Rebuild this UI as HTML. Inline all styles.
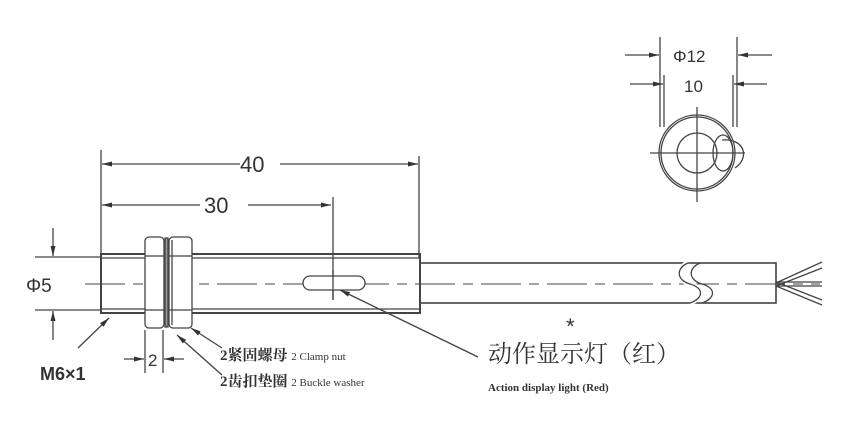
<!DOCTYPE html>
<html><head><meta charset="utf-8"><style>
html,body{margin:0;padding:0;background:#fff;}
svg{display:block;}
text{font-family:"Liberation Sans",sans-serif;fill:#333;}
.s{font-family:"Liberation Serif","Noto Serif CJK SC",serif;}
</style></head><body>
<svg width="860" height="434" viewBox="0 0 860 434" xmlns="http://www.w3.org/2000/svg">
<defs><marker id="a" markerWidth="10" markerHeight="6" refX="10" refY="3" orient="auto" markerUnits="userSpaceOnUse"><path d="M0,0.5 L10,3 L0,5.5z" fill="#333"/></marker></defs>
<g stroke="#444" fill="none" stroke-width="1.3">
<line x1="101" y1="150" x2="101" y2="312"/>
<line x1="419" y1="156" x2="419" y2="258"/>
<line x1="333" y1="197" x2="333" y2="300"/>
<line x1="240" y1="164" x2="102" y2="164" marker-end="url(#a)"/>
<line x1="280" y1="164" x2="418" y2="164" marker-end="url(#a)"/>
<line x1="200" y1="205" x2="102" y2="205" marker-end="url(#a)"/>
<line x1="248" y1="205" x2="331" y2="205" marker-end="url(#a)"/>
<rect x="101" y="254" width="319" height="59" stroke-width="2"/>
<line x1="101" y1="258" x2="420" y2="258"/>
<line x1="101" y1="309" x2="420" y2="309"/>
<line x1="35" y1="257" x2="101" y2="257"/>
<line x1="35" y1="310" x2="101" y2="310"/>
<line x1="53" y1="228" x2="53" y2="256" marker-end="url(#a)"/>
<line x1="53" y1="340" x2="53" y2="311" marker-end="url(#a)"/>
<line x1="85" y1="284" x2="820" y2="284" stroke-dasharray="40,8,10,8" stroke-width="1"/>
<rect x="145" y="237" width="19" height="91" rx="4" fill="#fff"/>
<line x1="145" y1="256" x2="164" y2="256"/><line x1="145" y1="310" x2="164" y2="310"/>
<rect x="165" y="238" width="3" height="89" fill="#999"/>
<rect x="169" y="237" width="23" height="91" rx="4" fill="#fff"/>
<line x1="169" y1="256" x2="192" y2="256"/><line x1="169" y1="310" x2="192" y2="310"/>
<line x1="172" y1="240" x2="172" y2="325"/>
<rect x="303" y="276" width="62" height="14" rx="7" fill="#fff"/>
<line x1="333" y1="270" x2="333" y2="300"/>
<rect x="420" y="263" width="356" height="40" stroke-width="1.6"/>
<path d="M688,263 C676,268 676,280 690,284 C704,288 704,298 690,303" fill="#fff" stroke="#fff" stroke-width="5"/>
<path d="M688,263 C676,268 676,280 690,284 M690,284 C704,288 704,298 690,303"/>
<path d="M700,263 C688,268 688,280 702,284 M702,284 C716,288 716,298 702,303"/>
<line x1="776" y1="283" x2="822" y2="262"/><line x1="776" y1="286" x2="822" y2="268"/>
<line x1="776" y1="282" x2="822" y2="282"/><line x1="776" y1="286" x2="822" y2="286"/>
<line x1="776" y1="282" x2="822" y2="300"/><line x1="776" y1="286" x2="822" y2="305"/>
<line x1="78" y1="348" x2="109" y2="318" marker-end="url(#a)"/>
<line x1="222" y1="348" x2="191" y2="328" marker-end="url(#a)"/>
<line x1="222" y1="375" x2="177" y2="335" marker-end="url(#a)"/>
<line x1="478" y1="357" x2="340" y2="290" marker-end="url(#a)"/>
<line x1="145" y1="330" x2="145" y2="373"/><line x1="163" y1="330" x2="163" y2="373"/>
<line x1="124" y1="359" x2="144" y2="359" marker-end="url(#a)"/>
<line x1="184" y1="359" x2="164" y2="359" marker-end="url(#a)"/>
<line x1="660" y1="37" x2="660" y2="127"/><line x1="737" y1="37" x2="737" y2="127"/>
<line x1="664" y1="75" x2="664" y2="127"/><line x1="733" y1="75" x2="733" y2="127"/>
<line x1="625" y1="55" x2="659" y2="55" marker-end="url(#a)"/>
<line x1="772" y1="55" x2="738" y2="55" marker-end="url(#a)"/>
<line x1="630" y1="84" x2="663" y2="84" marker-end="url(#a)"/>
<line x1="767" y1="84" x2="734" y2="84" marker-end="url(#a)"/>
<circle cx="697" cy="153" r="38"/>
<circle cx="697" cy="153" r="36"/>
<circle cx="697" cy="153" r="20"/>
<path d="M722,140 C745,138 750,158 735,168"/>
<ellipse cx="723" cy="153" rx="10" ry="18"/>
<line x1="650" y1="153" x2="745" y2="153"/><line x1="697" y1="107" x2="697" y2="202"/>
</g>
<text x="240" y="172" font-size="22">40</text>
<text x="204" y="213" font-size="22">30</text>
<text x="26" y="292" font-size="19">Φ5</text>
<text x="40" y="380" font-size="18" font-weight="bold">M6×1</text>
<text x="148" y="366" font-size="17">2</text>
<text x="673" y="62" font-size="17">Φ12</text>
<text x="684" y="92" font-size="17">10</text>
<text x="566" y="334" font-size="22">*</text>
<text class="s" x="220" y="360" font-size="15" font-weight="bold">2紧固螺母 <tspan font-size="11" font-weight="normal">2 Clamp nut</tspan></text>
<text class="s" x="220" y="386" font-size="15" font-weight="bold">2齿扣垫圈 <tspan font-size="11" font-weight="normal">2 Buckle washer</tspan></text>
<text class="s" x="488" y="362" font-size="24">动作显示灯（红）</text>
<text class="s" x="488" y="391" font-size="11" font-weight="bold">Action display light (Red)</text>
</svg>
</body></html>
